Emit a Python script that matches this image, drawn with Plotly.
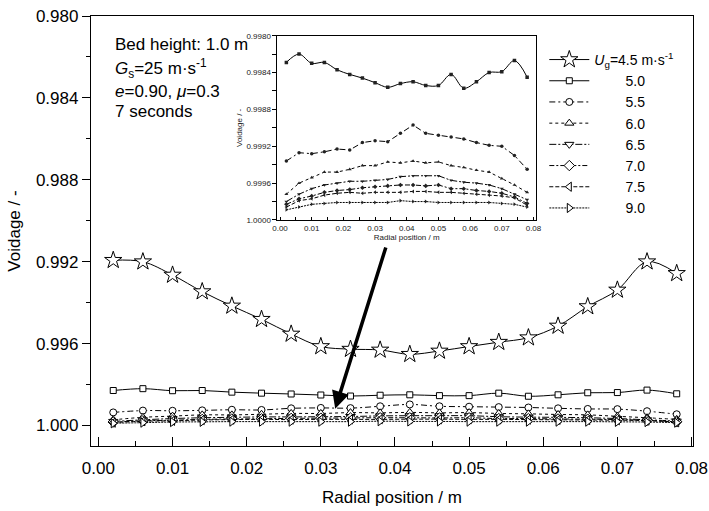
import plotly.graph_objects as go

# ---------------- data ----------------
radial = [0.002, 0.006, 0.010, 0.014, 0.018, 0.022, 0.026, 0.030, 0.034, 0.038,
          0.042, 0.046, 0.050, 0.054, 0.058, 0.062, 0.066, 0.070, 0.074, 0.078]

ug_labels = ["4.5", "5.0", "5.5", "6.0", "6.5", "7.0", "7.5", "9.0"]

v45 = [0.99193, 0.99200, 0.99265, 0.99346, 0.99416, 0.99481, 0.99553, 0.99614, 0.99627, 0.99631,
       0.99652, 0.99636, 0.99614, 0.99593, 0.99571, 0.99514, 0.99419, 0.99338, 0.99200, 0.99257]
v50 = [0.99829, 0.99820, 0.99830, 0.99829, 0.99837, 0.99842, 0.99846, 0.99851, 0.99856, 0.99852,
       0.99850, 0.99854, 0.99854, 0.99842, 0.99857, 0.99850, 0.99840, 0.99839, 0.99827, 0.99845]
v55 = [0.99936, 0.99927, 0.99928, 0.99926, 0.99923, 0.99924, 0.99916, 0.99914, 0.99915, 0.99906,
       0.99897, 0.99906, 0.99908, 0.99910, 0.99912, 0.99916, 0.99919, 0.99920, 0.99930, 0.99945]
v60 = [0.99972, 0.99960, 0.99954, 0.99948, 0.99948, 0.99945, 0.99941, 0.99941, 0.99937, 0.99938,
       0.99936, 0.99938, 0.99937, 0.99941, 0.99943, 0.99946, 0.99948, 0.99955, 0.99962, 0.99970]
v65 = [0.99980, 0.99972, 0.99966, 0.99962, 0.99960, 0.99958, 0.99958, 0.99957, 0.99956, 0.99953,
       0.99952, 0.99952, 0.99952, 0.99957, 0.99959, 0.99960, 0.99962, 0.99966, 0.99972, 0.99978]
v70 = [0.99983, 0.99977, 0.99974, 0.99970, 0.99968, 0.99967, 0.99965, 0.99964, 0.99963, 0.99962,
       0.99962, 0.99963, 0.99962, 0.99966, 0.99966, 0.99968, 0.99969, 0.99971, 0.99975, 0.99982]
v75 = [0.99986, 0.99979, 0.99977, 0.99973, 0.99971, 0.99970, 0.99971, 0.99970, 0.99970, 0.99970,
       0.99969, 0.99969, 0.99970, 0.99970, 0.99971, 0.99972, 0.99973, 0.99974, 0.99976, 0.99984]
v90 = [0.99989, 0.99986, 0.99983, 0.99982, 0.99981, 0.99981, 0.99981, 0.99981, 0.99981, 0.99979,
       0.99980, 0.99980, 0.99981, 0.99981, 0.99981, 0.99981, 0.99981, 0.99982, 0.99983, 0.99986]

series = [v45, v50, v55, v60, v65, v70, v75, v90]

# ---------------- styles ----------------
FONT = "Liberation Sans, Arial, sans-serif"
symbols = ["star", "square", "circle", "triangle-up", "triangle-down", "diamond", "triangle-left", "triangle-right"]
sizes = [13, 6, 7, 8, 8, 8, 8, 8]
dashes = ["solid", "solid", "6px,3px,2px,3px", "3px,3px", "7px,2px,2px,2px", "5px,2px,2px,2px", "4px,2px", "2px,1px"]
FS = "\u2007"
names = ["<i>U</i><sub>g</sub>=4.5 m·s<sup>-1</sup>"] + [FS * 4 + s for s in ug_labels[1:]]

fig = go.Figure()

# main plot
for i, vals in enumerate(series):
    fig.add_trace(go.Scatter(
        x=radial, y=vals, mode="lines+markers", name=names[i],
        line=dict(color="black", width=1, dash=dashes[i], shape="spline", smoothing=1.0),
        marker=dict(symbol=symbols[i], size=sizes[i], color="white",
                    line=dict(color="black", width=1)),
        xaxis="x", yaxis="y", showlegend=True,
    ))

# inset (5.0 .. 9.0)
for i, vals in enumerate(series[1:], start=1):
    fig.add_trace(go.Scatter(
        x=radial, y=vals, mode="lines+markers",
        line=dict(color="black", width=1, dash=dashes[i],
                  shape="spline" if i == 1 else "linear"),
        marker=dict(symbol=symbols[i], size=3.5, color="#222"),
        xaxis="x2", yaxis="y2", showlegend=False,
    ))

axis_common = dict(showgrid=False, zeroline=False, showline=True, linecolor="black",
                   mirror=True, tickcolor="black", automargin=False)

fig.update_layout(
    width=709, height=511,
    margin=dict(l=91, r=16, t=16, b=65, autoexpand=False),
    paper_bgcolor="white", plot_bgcolor="white",
    font=dict(family=FONT, color="black", size=17),
    xaxis=dict(**axis_common, range=[-0.001, 0.0802], tick0=0, dtick=0.01, tickformat=".2f",
               ticks="inside", ticklen=9, tickwidth=1, linewidth=1.3,
               minor=dict(dtick=0.005, ticks="inside", ticklen=5, tickcolor="black"),
               tickfont=dict(size=17), ticklabelstandoff=6,
               title=dict(text="Radial position / m", font=dict(size=17), standoff=14)),
    yaxis=dict(**axis_common, range=[1.001, 0.980], tick0=0.98, dtick=0.004, tickformat=".3f",
               ticks="outside", ticklen=8, tickwidth=1, linewidth=1.3,
               minor=dict(dtick=0.002, ticks="outside", ticklen=4, tickcolor="black"),
               tickfont=dict(size=17),
               title=dict(text="Voidage / -", font=dict(size=17), standoff=10)),
    xaxis2=dict(**axis_common, domain=[0.3098, 0.7392], anchor="y2",
                range=[-0.0008, 0.0808], tick0=0, dtick=0.01, tickformat=".2f",
                ticks="inside", ticklen=3, tickwidth=1, linewidth=1,
                minor=dict(dtick=0.005, ticks="inside", ticklen=3, tickcolor="black"),
                tickfont=dict(size=8, color="#222"),
                title=dict(text="Radial position / m", font=dict(size=8, color="#222"), standoff=2)),
    yaxis2=dict(**axis_common, domain=[0.5256, 0.9542], anchor="x2",
                range=[1.0, 0.998], tick0=0.998, dtick=0.0004, tickformat=".4f",
                ticks="outside", ticklen=4, tickwidth=1, linewidth=1,
                minor=dict(dtick=0.0002, ticks="outside", ticklen=4, tickcolor="black"),
                tickfont=dict(size=8, color="#222"),
                title=dict(text="Voidage / -", font=dict(size=8, color="#222"), standoff=2)),
    legend=dict(x=0.753, y=0.935, xanchor="left", yanchor="top", bgcolor="rgba(0,0,0,0)",
                font=dict(size=14), itemwidth=40, tracegroupgap=0),
)

# text block
text_lines = ["Bed height: 1.0 m", "<i>G</i><sub>s</sub>=25 m·s<sup>-1</sup>",
              "<i>e</i>=0.90, <i>μ</i>=0.3", "7 seconds"]
text_y = [0.9342, 0.8784, 0.8240, 0.7774]
for t, yy in zip(text_lines, text_y):
    fig.add_annotation(text=t, xref="paper", yref="paper", x=0.0365, y=yy,
                       xanchor="left", yanchor="middle", showarrow=False,
                       font=dict(size=17, family=FONT))

# arrow
fig.add_annotation(x=0.03194, y=0.99918, ax=0.03883, ay=0.99123,
                   xref="x", yref="y", axref="x", ayref="y",
                   text="", showarrow=True, arrowhead=2, arrowsize=1,
                   arrowwidth=3.5, arrowcolor="black")

fig.write_html("out.html", config={"displayModeBar": False},
               post_script="document.body.style.margin='0';document.body.style.overflow='hidden';")
